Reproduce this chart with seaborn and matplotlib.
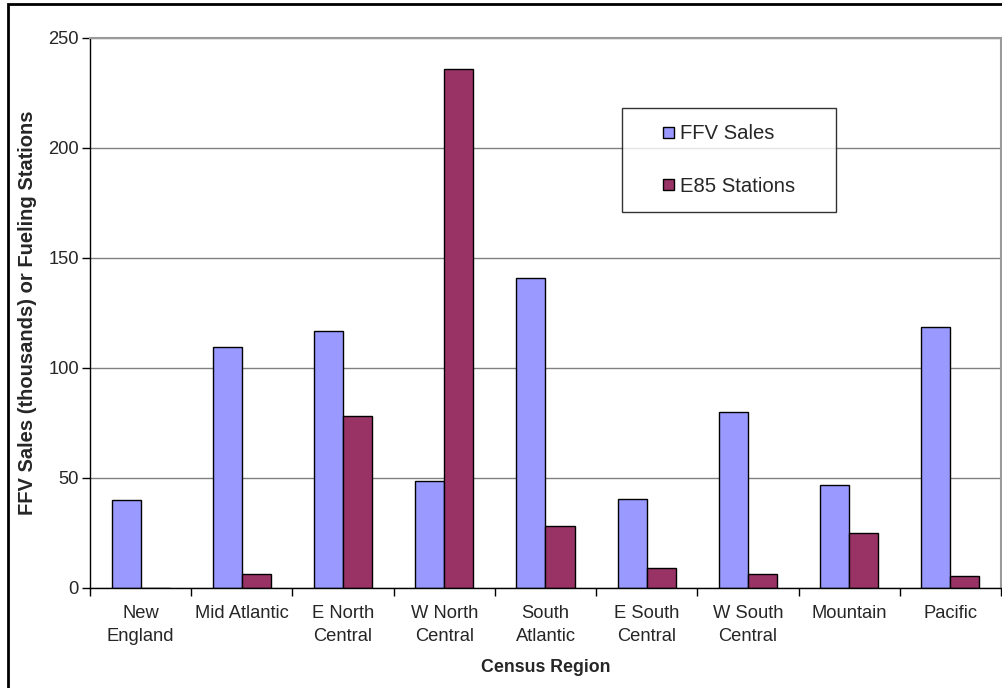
import matplotlib
matplotlib.use("Agg")
import matplotlib.pyplot as plt
from matplotlib.patches import Rectangle
from matplotlib.legend_handler import HandlerPatch
from matplotlib.ticker import FixedLocator
import seaborn as sns
import pandas as pd

regions = ["New\nEngland", "Mid Atlantic", "E North\nCentral", "W North\nCentral",
           "South\nAtlantic", "E South\nCentral", "W South\nCentral", "Mountain", "Pacific"]
ffv_sales = [40, 109.5, 117, 48.5, 141, 40.5, 80, 47, 118.5]
e85_stations = [0, 6.5, 78, 236, 28, 9, 6.5, 25, 5.5]
series_names = ["FFV Sales", "E85 Stations"]
series_colors = ["#9999FF", "#993366"]

df = pd.DataFrame({
    "Region": regions * 2,
    "Value": ffv_sales + e85_stations,
    "Series": [series_names[0]] * len(regions) + [series_names[1]] * len(regions),
})

sns.set_theme(style="white")
plt.rcParams["font.family"] = ["Liberation Sans", "DejaVu Sans"]

W, H = 1003, 688
fig = plt.figure(figsize=(W / 100, H / 100), dpi=100)
ax = fig.add_axes([90 / W, 100 / H, 911 / W, 550 / H])

sns.barplot(data=df, x="Region", y="Value", hue="Series", order=regions,
            hue_order=series_names, palette=series_colors, width=0.575,
            gap=0, edgecolor="black", linewidth=1.0, saturation=1,
            ax=ax, legend=True)

ax.set_ylim(0, 250)
ax.set_xlim(-0.5, len(regions) - 0.5)
ax.set_yticks([0, 50, 100, 150, 200, 250])
ax.yaxis.grid(True, color="#808080", linewidth=1)
ax.set_axisbelow(True)

for side in ["left", "bottom"]:
    ax.spines[side].set_color("black")
    ax.spines[side].set_linewidth(1)
for side in ["top", "right"]:
    ax.spines[side].set_color("#9a9a9a")
    ax.spines[side].set_linewidth(1.5)

ax.tick_params(axis="y", direction="out", length=6, width=1, color="black",
               labelsize=13.2, pad=2, left=True)
ax.tick_params(axis="x", which="major", length=0, labelsize=13.2, pad=12)
ax.xaxis.set_minor_locator(FixedLocator([i - 0.5 for i in range(len(regions) + 1)]))
ax.tick_params(axis="x", which="minor", direction="out", length=6, width=1,
               color="black", bottom=True)
for lbl in ax.get_xticklabels():
    lbl.set_linespacing(1.5)

ax.set_xlabel("Census Region", fontsize=12.8, fontweight="bold", labelpad=10)
ax.set_ylabel("FFV Sales (thousands) or Fueling Stations", fontsize=14.5,
              fontweight="bold", labelpad=8)


class SmallSquare(HandlerPatch):
    """Legend key drawn as a small square at the right end of the handle slot."""

    def create_artists(self, legend, orig_handle, xdescent, ydescent,
                       width, height, fontsize, trans):
        side = 0.55 * fontsize
        p = Rectangle((width - side - xdescent, -ydescent + (height - side) / 2),
                      side, side, facecolor=orig_handle.get_facecolor(),
                      edgecolor="black", linewidth=1, transform=trans)
        return [p]


handles, labels = ax.get_legend_handles_labels()
leg = ax.legend(handles, labels, loc="upper left",
                bbox_to_anchor=(532 / 911, (588 - 108) / 550 - 0.01, 214 / 911, 0.01),
                mode="expand", frameon=True, fancybox=False, edgecolor="black",
                fontsize=14.6, handlelength=1.75, handleheight=0.7,
                handletextpad=0.3, labelspacing=1.65, borderpad=0.8,
                borderaxespad=0, handler_map={Rectangle: SmallSquare()})
leg.get_frame().set_linewidth(1)

# outer figure frame (left and top edges visible)
fig.patches.append(Rectangle((8 / W, -0.01), 1.1, (684 / H) + 0.01,
                             transform=fig.transFigure, fill=False,
                             edgecolor="black", linewidth=2, zorder=10))

fig.savefig("out.png", dpi=100, facecolor="white")
